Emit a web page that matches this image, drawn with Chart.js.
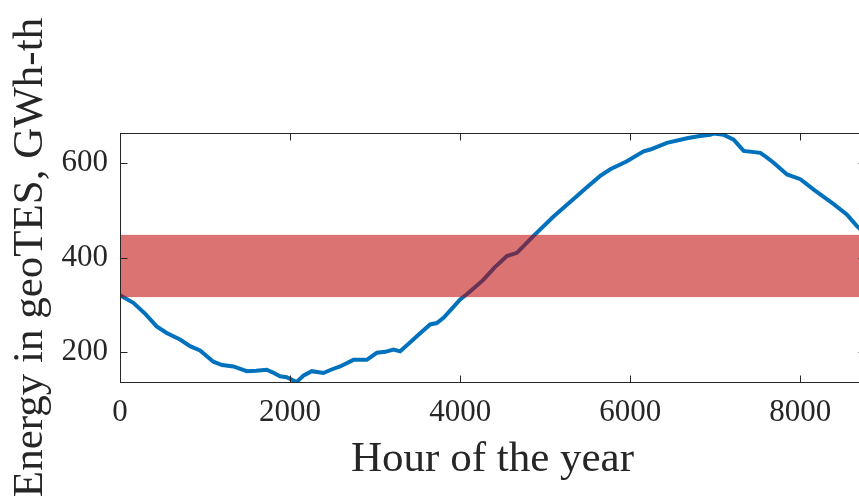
<!DOCTYPE html>
<html>
<head>
<meta charset="utf-8">
<title>geoTES energy</title>
<script src="https://cdn.jsdelivr.net/npm/chart.js"></script>
<style>
  html, body { margin: 0; padding: 0; background: #fff; overflow: hidden; }
  #wrap { width: 873px; height: 501px; }
</style>
</head>
<body>
<div id="wrap"><canvas id="storage-chart"></canvas></div>

<script>
// stored energy over the year (hour, GWh-th)
var hours = [0, 157, 300, 431, 549, 706, 824, 941, 1098, 1200, 1333, 1490, 1600, 1725, 1800, 1882, 1960, 2078,
    2160, 2255, 2392, 2480, 2588, 2745, 2902, 3020, 3120, 3216, 3294, 3400, 3490, 3647, 3725, 3804, 3900, 4000,
    4078, 4275, 4400, 4549, 4667, 4863, 5098, 5333, 5490, 5647, 5765, 5961, 6157, 6235, 6431, 6667, 6800, 6941,
    6980, 7100, 7216, 7333, 7529, 7600, 7686, 7843, 8000, 8157, 8392, 8549, 8667, 8760];
var energy = [320, 304, 280, 254, 240, 226, 212, 203, 179, 172, 169, 159, 160, 162, 156, 148, 146, 136,
    150, 159, 155, 162, 169, 183, 183, 198, 200, 205, 201, 218, 233, 258, 261, 272, 291, 311,
    322, 353, 378, 403, 410, 446, 487, 524, 549, 573, 587, 604, 625, 629, 643, 653, 657, 660,
    663, 660, 650, 626, 622, 613, 601, 576, 566, 544, 513, 491, 466, 452];

var xTicks = [0, 2000, 4000, 6000, 8000];
var yTicks = [200, 400, 600];
var xRange = [0, 8760];
var yRange = [136, 664];

// shaded operating band
var bandLow = 316;
var bandHigh = 448;

var axisColor = '#262626';
var serif = "'Liberation Serif', 'Times New Roman', serif";

// band over the line, then the boxed axes with inward ticks
var bandAndBox = {
    id: 'bandAndBox',
    afterDatasetsDraw: function(chart) {
        var ctx = chart.ctx;
        var area = chart.chartArea;
        var xs = chart.scales.x;
        var ys = chart.scales.y;
        var top = ys.getPixelForValue(bandHigh);
        var bottom = ys.getPixelForValue(bandLow);

        ctx.save();
        ctx.fillStyle = 'rgba(190, 0, 0, 0.55)';
        ctx.fillRect(area.left, top, area.right - area.left, bottom - top);

        var l = Math.round(area.left) + 0.5;
        var r = Math.round(area.right) + 0.5;
        var t = Math.round(area.top) + 0.5;
        var b = Math.round(area.bottom) + 0.5;
        var tick = 7;
        ctx.strokeStyle = axisColor;
        ctx.lineWidth = 1;
        ctx.strokeRect(l, t, r - l, b - t);

        ctx.beginPath();
        xTicks.forEach(function(v) {
            var px = Math.round(xs.getPixelForValue(v)) + 0.5;
            ctx.moveTo(px, b); ctx.lineTo(px, b - tick);
            ctx.moveTo(px, t); ctx.lineTo(px, t + tick);
        });
        yTicks.forEach(function(v) {
            var py = Math.round(ys.getPixelForValue(v)) + 0.5;
            ctx.moveTo(l, py); ctx.lineTo(l + tick, py);
            ctx.moveTo(r, py); ctx.lineTo(r - tick, py);
        });
        ctx.stroke();
        ctx.restore();
    }
};

var points = hours.map(function(h, i) { return { x: h, y: energy[i] }; });

function plainNumber(value) { return String(value); }

new Chart(document.getElementById('storage-chart'), {
    type: 'line',
    data: {
        datasets: [{
            data: points,
            borderColor: '#0072BD',
            borderWidth: 4,
            pointRadius: 0,
            tension: 0,
            fill: false
        }]
    },
    options: {
        responsive: true,
        maintainAspectRatio: false,
        animation: false,
        layout: { padding: { top: 133, right: 8, left: 0, bottom: 0 } },
        plugins: {
            legend: { display: false },
            tooltip: { enabled: false }
        },
        scales: {
            x: {
                type: 'linear',
                min: xRange[0],
                max: xRange[1],
                grid: { display: false, drawTicks: false },
                border: { display: false },
                afterBuildTicks: function(scale) {
                    scale.ticks = xTicks.map(function(v) { return { value: v }; });
                },
                afterFit: function(scale) { scale.height = 119; },
                ticks: {
                    color: axisColor,
                    padding: 12,
                    maxRotation: 0,
                    callback: plainNumber,
                    font: { family: serif, size: 31 }
                },
                title: {
                    display: true,
                    text: 'Hour of the year',
                    color: axisColor,
                    padding: { top: 0, bottom: 15 },
                    font: { family: serif, size: 43 }
                }
            },
            y: {
                min: yRange[0],
                max: yRange[1],
                grid: { display: false, drawTicks: false },
                border: { display: false },
                afterBuildTicks: function(scale) {
                    scale.ticks = yTicks.map(function(v) { return { value: v }; });
                },
                afterFit: function(scale) { scale.width = 120; },
                ticks: {
                    color: axisColor,
                    padding: 12,
                    callback: plainNumber,
                    font: { family: serif, size: 31 }
                },
                title: {
                    display: true,
                    text: 'Energy in geoTES, GWh-th',
                    color: axisColor,
                    padding: { top: 5, bottom: 0 },
                    font: { family: serif, size: 43 }
                }
            }
        }
    },
    plugins: [bandAndBox]
});
</script>
</body>
</html>
